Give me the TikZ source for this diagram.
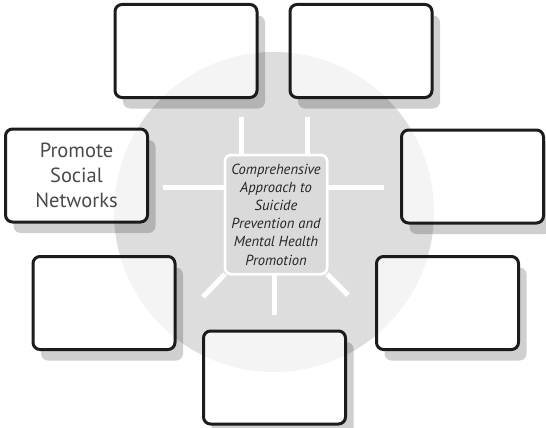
\documentclass[tikz,border=0pt]{standalone}
\usepackage{fontspec}
\setmainfont{PT Sans}
\usetikzlibrary{shadows}
\definecolor{discbase}{HTML}{E8E8E8}
\definecolor{boxline}{HTML}{1C1C1C}
\definecolor{hubfill}{HTML}{DADADA}
\definecolor{hubtext}{HTML}{262626}
\definecolor{labeltext}{HTML}{4A4A4A}
\begin{document}
\begin{tikzpicture}[x=1pt,y=-1pt,
  panel/.style={draw=boxline, line width=3pt, fill=white, rounded corners=7pt,
    minimum width=142pt, minimum height=93pt, inner sep=0pt, outer sep=0pt,
    align=center, text=labeltext, font=\fontsize{20.5}{25}\selectfont,
    drop shadow={shadow xshift=8pt, shadow yshift=-11pt, fill=black, opacity=0.19}},
  hub/.style={draw=white, line width=2.5pt, fill=hubfill, rounded corners=6pt,
    minimum width=102pt, minimum height=119pt, inner sep=0pt, outer sep=0pt,
    align=center, text=hubtext, font=\itshape\fontsize{14.6}{18.2}\selectfont},
  spoke/.style={draw=white, line width=5pt}]
\useasboundingbox (0,0) rectangle (546,428);
\fill[white] (0,0) rectangle (546,428);
% background disc
\fill[discbase] (274,212) circle[radius=160];
% outer panels
\node[panel] (tl) at (186,51) {};
\node[panel] (tr) at (361,51) {};
\node[panel] (l)  at (76.5,175.5) {Promote\\Social\\Networks};
\node[panel] (r)  at (472.5,176.5) {};
\node[panel] (bl) at (104,303) {};
\node[panel] (br) at (447.5,303) {};
\node[panel] (b)  at (274.5,377.5) {};
% disc tint that shows through the panels
\fill[black, fill opacity=0.045] (274,212) circle[radius=160];
% spoke ends
\coordinate (s1) at (241,117);
\coordinate (s2) at (307,117);
\coordinate (s3) at (163,187);
\coordinate (s4) at (384,187);
\coordinate (s5) at (274,315);
\coordinate (s6) at (203,297);
\coordinate (s7) at (348,295);
% hub placed first so spokes can refer to it, then redrawn on top
\node[hub] (hub) at (276,214.5) {};
\draw[spoke] (s1) -- (s1 |- hub.north);
\draw[spoke] (s2) -- (s2 |- hub.north);
\draw[spoke] (s3) -- (s3 -| hub.west);
\draw[spoke] (s4) -- (s4 -| hub.east);
\draw[spoke] (s5) -- (s5 |- hub.south);
\draw[spoke] (s6) -- (hub.south west);
\draw[spoke] (s7) -- (hub.south east);
\node[hub] at (hub) {Comprehensive\\Approach to\\Suicide\\Prevention and\\Mental Health\\Promotion};
\end{tikzpicture}
\end{document}
